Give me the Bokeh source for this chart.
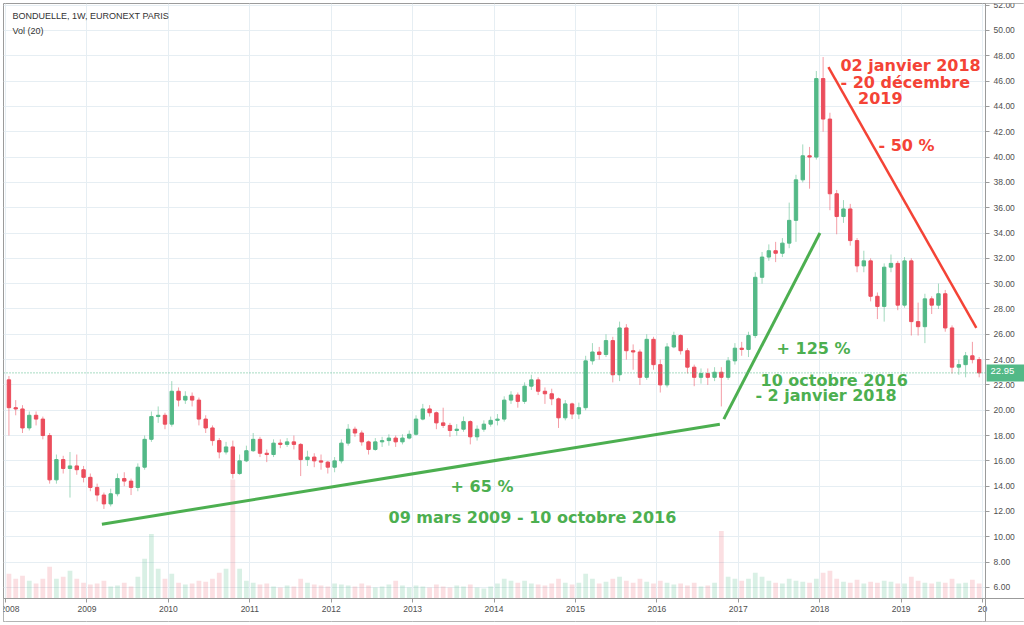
import pandas as pd
from bokeh.plotting import figure
from bokeh.models import (Range1d, FixedTicker, Span, Label, ColumnDataSource,
                          NumeralTickFormatter, LinearAxis, BoxAnnotation)
from bokeh.embed import file_html
from bokeh.resources import INLINE

# ---------------- data: monthly OHLC ----------------
years = list(range(2008, 2020))
months = list(range(1, 13))

opens = [
    22.4, 20.2, 20.1, 18.6, 19.6, 19.3, 18.0, 14.5, 16.1, 15.4, 15.6, 15.3,   # 2008
    14.7, 13.9, 13.3, 12.6, 13.4, 14.6, 14.4, 13.9, 15.5, 17.7, 19.5, 19.6,   # 2009
    18.9, 21.5, 20.8, 21.1, 20.8, 19.3, 18.6, 17.6, 16.7, 17.1, 15.0, 16.0,   # 2010
    16.8, 17.7, 16.6, 16.5, 17.4, 17.3, 17.5, 17.3, 16.1, 16.3, 16.0, 15.9,   # 2011
    15.5, 16.0, 17.4, 18.5, 18.2, 17.5, 16.9, 17.5, 17.6, 17.8, 17.5, 17.8,   # 2012
    18.1, 19.3, 20.1, 19.8, 19.0, 18.8, 18.4, 18.5, 19.1, 17.9, 18.5, 18.9,   # 2013
    19.2, 19.3, 20.8, 21.2, 20.7, 21.9, 22.4, 21.5, 21.3, 20.9, 19.4, 20.5,   # 2014
    19.7, 20.2, 23.9, 24.6, 24.4, 25.5, 22.8, 26.5, 24.7, 24.6, 22.6, 25.6,   # 2015
    23.6, 22.0, 25.0, 25.9, 24.7, 23.4, 22.6, 22.9, 22.6, 23.0, 22.6, 23.9,   # 2016
    24.9, 24.8, 25.9, 30.5, 32.1, 32.6, 32.4, 33.2, 35.0, 38.2, 40.1, 40.0,   # 2017
    46.2, 43.0, 37.1, 35.3, 35.9, 33.4, 31.4, 31.8, 29.0, 28.2, 31.3, 31.6,   # 2018
    28.3, 31.8, 27.0, 26.6, 28.8, 28.3, 29.2, 26.5, 23.4, 23.6, 24.3, 24.0,   # 2019
]
highs = [
    22.7, 20.8, 20.4, 19.9, 19.9, 19.5, 18.2, 16.5, 16.4, 16.7, 16.5, 15.6,
    15.0, 14.2, 13.5, 13.8, 15.0, 15.1, 14.6, 15.8, 18.0, 19.9, 20.3, 19.8,
    22.3, 21.8, 21.5, 21.4, 21.0, 19.6, 18.8, 17.8, 17.5, 17.6, 16.5, 17.2,
    18.2, 17.9, 16.9, 17.7, 17.7, 17.8, 18.0, 17.4, 16.8, 16.6, 16.5, 16.0,
    16.3, 17.7, 18.9, 18.7, 18.4, 17.6, 17.8, 17.9, 18.1, 18.0, 18.1, 18.4,
    19.6, 20.5, 20.4, 19.9, 20.2, 19.0, 18.9, 19.5, 19.2, 18.8, 19.2, 19.5,
    19.7, 21.1, 21.5, 21.4, 22.2, 22.8, 22.6, 21.8, 21.7, 21.0, 20.8, 20.6,
    20.6, 24.3, 25.3, 25.0, 26.0, 25.8, 27.0, 26.8, 25.2, 24.8, 26.0, 25.8,
    24.0, 25.3, 26.2, 26.0, 24.9, 23.6, 23.3, 23.3, 23.4, 23.4, 24.2, 25.3,
    25.4, 26.2, 30.9, 32.5, 33.1, 33.3, 33.6, 36.4, 38.6, 41.0, 40.8, 46.8,
    47.9, 43.5, 37.4, 36.6, 36.3, 33.6, 32.6, 32.0, 29.3, 31.6, 32.3, 31.8,
    32.1, 32.0, 28.5, 29.2, 29.0, 30.0, 29.5, 26.7, 24.0, 24.6, 25.4, 24.2,
]
lows = [
    18.0, 19.6, 18.2, 18.4, 18.8, 17.7, 14.2, 14.2, 15.0, 13.1, 14.9, 14.3,
    13.6, 12.8, 12.2, 12.4, 13.2, 14.0, 13.3, 13.6, 15.3, 17.5, 19.0, 18.5,
    18.7, 20.3, 20.5, 20.3, 18.8, 18.2, 17.2, 16.2, 16.5, 14.6, 14.9, 15.9,
    16.7, 16.3, 15.9, 16.3, 17.0, 17.1, 16.9, 14.8, 15.6, 15.5, 15.3, 15.0,
    15.1, 15.8, 17.2, 17.9, 17.2, 16.5, 16.8, 17.1, 17.2, 17.1, 17.3, 17.7,
    18.0, 19.2, 19.5, 18.5, 18.6, 17.9, 18.0, 18.3, 17.3, 17.6, 18.3, 18.7,
    18.8, 19.1, 20.5, 20.2, 20.5, 21.6, 21.2, 20.5, 20.4, 18.6, 19.2, 19.3,
    19.3, 20.0, 23.6, 24.0, 24.2, 22.2, 22.3, 24.0, 23.2, 22.0, 22.4, 23.2,
    21.4, 21.8, 24.9, 24.4, 22.9, 21.9, 22.1, 22.0, 22.3, 20.3, 22.4, 23.6,
    24.3, 24.2, 25.7, 30.0, 31.8, 31.7, 32.1, 32.8, 33.3, 38.0, 37.5, 39.8,
    42.0, 35.8, 33.9, 34.8, 33.0, 30.9, 30.9, 28.6, 27.2, 27.0, 30.9, 27.9,
    28.1, 25.9, 25.9, 25.3, 27.6, 28.0, 26.2, 22.9, 22.8, 22.6, 23.7, 22.6,
]
closes = [
    20.2, 20.1, 18.6, 19.6, 19.3, 18.0, 14.5, 16.1, 15.4, 15.6, 15.3, 14.7,
    13.9, 13.3, 12.6, 13.4, 14.6, 14.4, 13.9, 15.5, 17.7, 19.5, 19.6, 18.9,
    21.5, 20.8, 21.1, 20.8, 19.3, 18.6, 17.6, 16.7, 17.1, 15.0, 16.0, 16.8,
    17.7, 16.6, 16.5, 17.4, 17.3, 17.5, 17.3, 16.1, 16.3, 16.0, 15.9, 15.5,
    16.0, 17.4, 18.5, 18.2, 17.5, 16.9, 17.5, 17.6, 17.8, 17.5, 17.8, 18.1,
    19.3, 20.1, 19.8, 19.0, 18.8, 18.4, 18.5, 19.1, 17.9, 18.5, 18.9, 19.2,
    19.3, 20.8, 21.2, 20.7, 21.9, 22.4, 21.5, 21.3, 20.9, 19.4, 20.5, 19.7,
    20.2, 23.9, 24.6, 24.4, 25.5, 22.8, 26.5, 24.7, 24.6, 22.6, 25.6, 23.6,
    22.0, 25.0, 25.9, 24.7, 23.4, 22.6, 22.9, 22.6, 23.0, 22.6, 23.9, 24.9,
    24.8, 25.9, 30.5, 32.1, 32.6, 32.4, 33.2, 35.0, 38.2, 40.1, 40.0, 46.2,
    43.0, 37.1, 35.3, 35.9, 33.4, 31.4, 31.8, 29.0, 28.2, 31.3, 31.6, 28.3,
    31.8, 27.0, 26.6, 28.8, 28.3, 29.2, 26.5, 23.4, 23.6, 24.3, 24.0, 22.95,
]
volumes = [
    250, 200, 230, 180, 150, 200, 320, 200, 220, 280, 200, 160,
    140, 150, 180, 120, 130, 160, 120, 220, 400, 650, 300, 200,
    250, 160, 140, 150, 180, 170, 200, 260, 300, 1200, 300, 180,
    160, 140, 150, 120, 110, 130, 120, 200, 160, 140, 130, 120,
    150, 140, 130, 120, 150, 130, 110, 120, 140, 180, 130, 110,
    130, 120, 110, 140, 120, 110, 130, 120, 140, 110, 100, 120,
    150, 200, 180, 160, 180, 150, 140, 130, 150, 200, 160, 140,
    160, 250, 200, 150, 170, 200, 220, 180, 160, 200, 170, 150,
    180, 160, 140, 150, 130, 160, 120, 130, 160, 680, 220, 200,
    180, 200, 260, 220, 180, 160, 150, 200, 180, 170, 160, 200,
    260, 280, 200, 170, 160, 190, 150, 170, 160, 180, 170, 150,
    150, 220, 180, 160, 150, 170, 160, 200, 150, 160, 190, 150,
]
last_price = 22.95

tick_years = list(range(2008, 2021))
tick_labels = ["2008", "2009", "2010", "2011", "2012", "2013", "2014",
               "2015", "2016", "2017", "2018", "2019", "20"]
price_ticks = list(range(6, 53, 2))

# trend lines (dates, prices)
trend_long_dates = ["2009-03-09", "2016-10-10"]
trend_long_prices = [11.0, 18.9]
trend_short_dates = ["2016-10-28", "2018-01-02"]
trend_short_prices = [19.3, 34.0]
trend_down_dates = ["2018-02-09", "2019-12-04"]
trend_down_prices = [47.1, 26.5]

# ---------------- helpers ----------------
def frac_year(d):
    t = pd.Timestamp(d)
    days = 366 if t.is_leap_year else 365
    return t.year + (t.dayofyear - 1) / days

x = [yr + (m - 0.5) / 12 for yr in years for m in months]
up = [c >= o for o, c in zip(opens, closes)]

UP = "#53b987"
DOWN = "#eb4d5c"
GREEN = "#4caf50"
RED = "#f44336"
FRAME = "#9b9b9b"

def subset(mask):
    return ColumnDataSource(dict(
        x=[v for v, k in zip(x, mask) if k],
        o=[v for v, k in zip(opens, mask) if k],
        h=[v for v, k in zip(highs, mask) if k],
        l=[v for v, k in zip(lows, mask) if k],
        c=[v for v, k in zip(closes, mask) if k],
        vol=[v for v, k in zip(volumes, mask) if k],
    ))

src_up = subset(up)
src_dn = subset([not u for u in up])

# ---------------- figure ----------------
# The frame covers the whole chart box; both scales are pinned inside it.
X0, X_AXIS, X1 = 2007.975, 2020.037, 2020.515     # left edge, price-scale line, right edge
Y0, Y_AXIS, Y1 = 3.31, 5.13, 52.13                # bottom edge, time-scale line, top edge
p = figure(width=1024, height=625,
           x_range=Range1d(X0, X1), y_range=Range1d(Y0, Y1),
           x_axis_location=None, y_axis_location=None,
           output_backend="svg", toolbar_location=None,
           min_border_left=3, min_border_top=3, min_border_right=0, min_border_bottom=4)
p.extra_y_ranges = {"vol": Range1d(-232, 6000)}
p.background_fill_color = "white"
p.border_fill_color = "white"
p.outline_line_color = FRAME

p.xgrid.ticker = FixedTicker(ticks=tick_years)
p.ygrid.ticker = FixedTicker(ticks=price_ticks)
p.xgrid.grid_line_color = "#e6eef3"
p.ygrid.grid_line_color = "#e6eef3"

# blank the scale areas (hide grid lines there)
p.add_layout(BoxAnnotation(left=X_AXIS, fill_color="white", fill_alpha=1,
                           line_color=None, level="underlay"))
p.add_layout(BoxAnnotation(top=Y_AXIS, fill_color="white", fill_alpha=1,
                           line_color=None, level="underlay"))

# time axis
xax = LinearAxis(fixed_location=Y_AXIS, ticker=FixedTicker(ticks=tick_years))
xax.major_label_overrides = {yv: lab for yv, lab in zip(tick_years, tick_labels)}
p.add_layout(xax, "below")
# price axis
yax = LinearAxis(fixed_location=X_AXIS, ticker=FixedTicker(ticks=price_ticks),
                 formatter=NumeralTickFormatter(format="0.00"))
p.add_layout(yax, "right")
for ax in (xax, yax):
    ax.axis_line_color = FRAME
    ax.major_tick_line_color = FRAME
    ax.major_tick_out = 4
    ax.major_tick_in = 0
    ax.minor_tick_line_color = None
    ax.major_label_text_font = "Liberation Sans"
    ax.major_label_text_font_size = "8.5px"
    ax.major_label_text_color = "#4f4f4f"
    ax.major_label_standoff = 4

# volume
vw = 0.7 / 12
p.vbar(x="x", width=vw, top="vol", bottom=0, source=src_up, y_range_name="vol",
       fill_color=UP, fill_alpha=0.22, line_color=None)
p.vbar(x="x", width=vw, top="vol", bottom=0, source=src_dn, y_range_name="vol",
       fill_color=DOWN, fill_alpha=0.18, line_color=None)

# last price line
p.add_layout(Span(location=last_price, dimension="width", line_color=UP,
                  line_dash="1 2", line_width=1))

# candles
bw = 0.5 / 12
p.segment(x0="x", y0="l", x1="x", y1="h", source=src_up, line_color=UP, line_alpha=0.55, line_width=1)
p.segment(x0="x", y0="l", x1="x", y1="h", source=src_dn, line_color=DOWN, line_alpha=0.55, line_width=1)
p.vbar(x="x", width=bw, top="c", bottom="o", source=src_up, fill_color=UP, line_color=UP)
p.vbar(x="x", width=bw, top="o", bottom="c", source=src_dn, fill_color=DOWN, line_color=DOWN)

# trend lines
p.line([frac_year(d) for d in trend_long_dates], trend_long_prices, line_color=GREEN, line_width=3)
p.line([frac_year(d) for d in trend_short_dates], trend_short_prices, line_color=GREEN, line_width=3)
p.line([frac_year(d) for d in trend_down_dates], trend_down_prices, line_color=RED, line_width=2.5)

# texts
def add_text(xv, yv, txt, color, size="16px", font="DejaVu Sans", style="bold"):
    p.add_layout(Label(x=xv, y=yv, text=txt, text_color=color, text_font=font,
                       text_font_size=size, text_font_style=style,
                       text_baseline="middle", text_align="left"))

add_text(2018.255, 47.23, "02 janvier 2018", RED)
add_text(2018.255, 45.89, "- 20 décembre", RED)
add_text(2018.470, 44.63, "2019", RED)
add_text(2018.722, 40.91, "- 50 %", RED)
add_text(2017.470, 24.90, "+ 125 %", GREEN)
add_text(2017.273, 22.35, "10 octobre 2016", GREEN)
add_text(2017.210, 21.17, "- 2 janvier 2018", GREEN)
add_text(2013.466, 13.98, "+ 65 %", GREEN)
add_text(2012.704, 11.53, "09 mars 2009 - 10 octobre 2016", GREEN)

add_text(2008.086, 51.18, "BONDUELLE, 1W, EURONEXT PARIS", "#333333", size="9px",
         font="Liberation Sans", style="normal")
add_text(2008.086, 49.98, "Vol (20)", "#333333", size="9px",
         font="Liberation Sans", style="normal")

# last-price tag on the price scale
p.add_layout(Label(x=X_AXIS, y=last_price, x_offset=1, text="22.95",
                   text_color="white", text_font="Liberation Sans", text_font_size="9.5px",
                   text_baseline="middle", text_align="left",
                   background_fill_color=UP, padding=(4, 20, 4, 7)))

open("out.html", "w").write(file_html(p, INLINE))
